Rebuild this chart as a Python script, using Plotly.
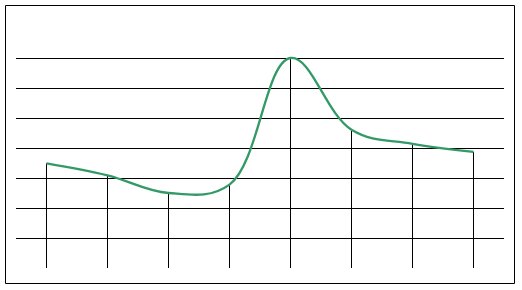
import plotly.graph_objects as go

categories = [0, 1, 2, 3, 4, 5, 6, 7]
values = [3.49, 3.09, 2.50, 2.78, 7.00, 4.61, 4.14, 3.87]
grid_vals = [1, 2, 3, 4, 5, 6, 7]

# drop lines from each point to the baseline
drop_x, drop_y = [], []
for c, v in zip(categories, values):
    drop_x += [c, c, None]
    drop_y += [0, v, None]

fig = go.Figure()
fig.add_trace(go.Scatter(x=drop_x, y=drop_y, mode="lines",
                         line=dict(color="black", width=1), hoverinfo="skip"))
fig.add_trace(go.Scatter(x=categories, y=values, mode="lines",
                         line=dict(color="#339966", width=2.3, shape="spline", smoothing=1.1)))

fig.update_layout(
    width=522, height=290,
    margin=dict(l=16, r=18, t=28, b=22),
    paper_bgcolor="white", plot_bgcolor="white",
    showlegend=False,
    xaxis=dict(range=[-0.5, 7.5], showgrid=False, zeroline=False,
               showticklabels=False, showline=False, ticks=""),
    yaxis=dict(range=[0, 8], tickvals=grid_vals, showgrid=True,
               gridcolor="black", gridwidth=1, zeroline=False,
               showticklabels=False, showline=False, ticks=""),
    shapes=[dict(type="rect", xref="paper", yref="paper",
                 x0=(5.5 - 16) / 488, x1=(514.5 - 16) / 488,
                 y0=(268 - 283.5) / 240, y1=(268 - 5.5) / 240,
                 line=dict(color="black", width=1), fillcolor="rgba(0,0,0,0)")],
)

fig.write_html("out.html")
